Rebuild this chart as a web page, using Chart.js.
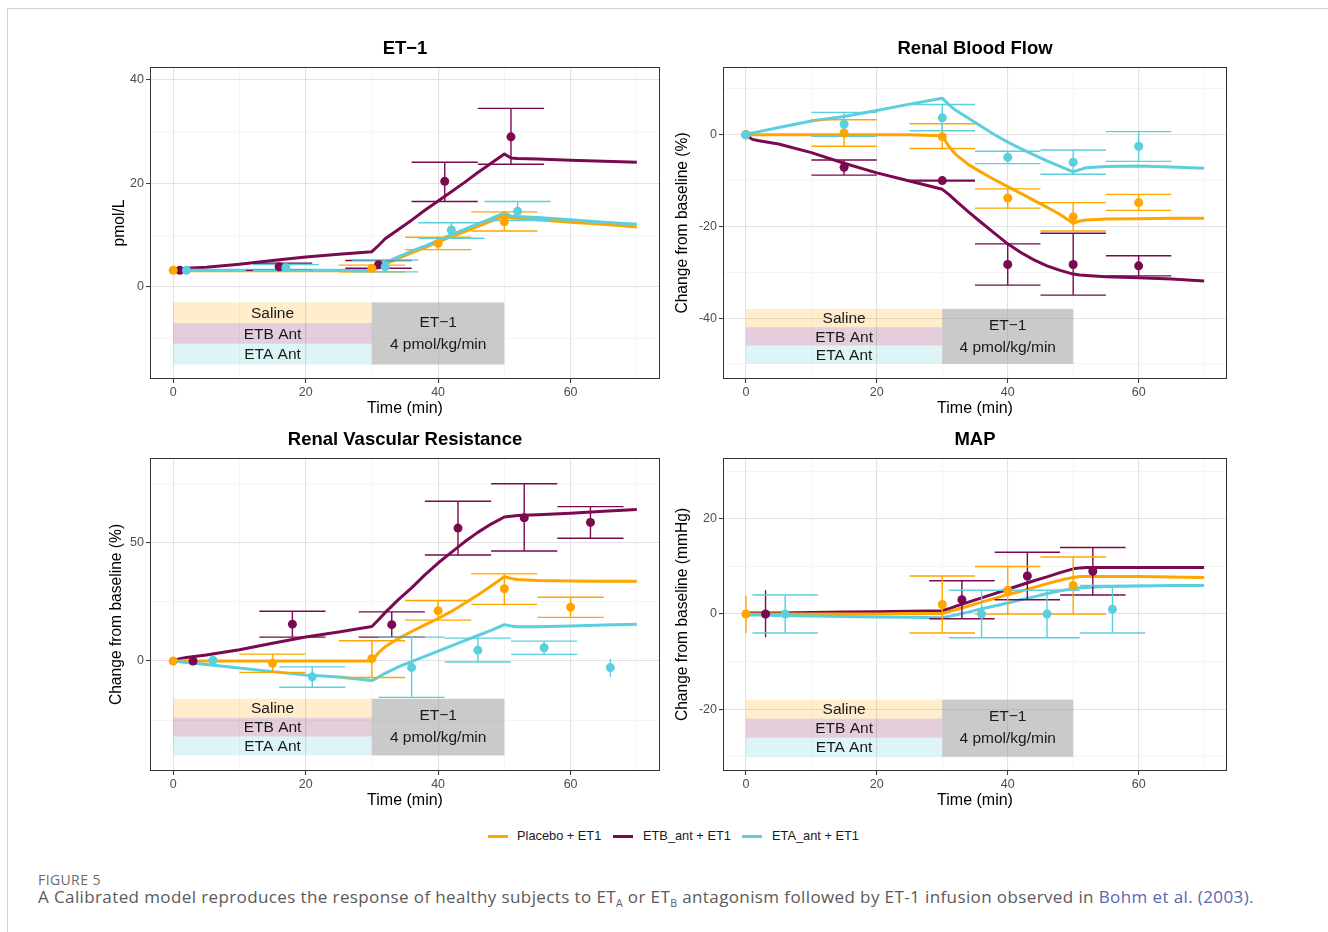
<!DOCTYPE html>
<html>
<head>
<meta charset="utf-8">
<script src="https://cdn.jsdelivr.net/npm/chart.js@4.4.1/dist/chart.umd.min.js"></script>
<style>
  body { margin: 0; width: 1328px; height: 932px; background: #fff; position: relative; overflow: hidden;
         font-family: 'Liberation Sans', Arial, sans-serif; }
  .frame { position: absolute; left: 7px; top: 8px; width: 1400px; height: 1000px;
           border-top: 1px solid #d4d4d4; border-left: 1px solid #d4d4d4; }
  canvas { position: absolute; }
  .sw { position: absolute; top: 835px; width: 20px; height: 3px; }
  .lt { position: absolute; top: 828px; font-size: 12.8px; color: #1a1a1a; }
  #fig { position: absolute; left: 38px; top: 870px; font-family: 'Open Sans', sans-serif; font-size: 14px;
         letter-spacing: 0.4px; color: #6b6b6b; }
  #cap { position: absolute; left: 38px; top: 885px; font-family: 'Open Sans', sans-serif; font-size: 17px;
         letter-spacing: 0.39px; color: #5a5a5a; white-space: nowrap; }
  #cap sub { font-size: 10.5px; }
  #cap .lnk { color: #5866b4; }
</style>
</head>
<body>
<div class="frame"></div>
<canvas id="c1" width="610" height="395" style="left:100px; top:28px"></canvas>
<canvas id="c2" width="610" height="395" style="left:670px; top:28px"></canvas>
<canvas id="c3" width="610" height="396" style="left:100px; top:419px"></canvas>
<canvas id="c4" width="610" height="396" style="left:670px; top:419px"></canvas>

<div class="sw" style="left:488px; background:#ffa500"></div><div class="lt" style="left:517px">Placebo + ET1</div>
<div class="sw" style="left:613px; background:#7a0a50"></div><div class="lt" style="left:643px">ETB_ant + ET1</div>
<div class="sw" style="left:742px; background:#5bcfde"></div><div class="lt" style="left:772px">ETA_ant + ET1</div>

<div id="fig">FIGURE 5</div>
<div id="cap">A Calibrated model reproduces the response of healthy subjects to ET<sub>A</sub> or ET<sub>B</sub> antagonism followed by ET-1 infusion observed in <span class="lnk">Bohm et al. (2003).</span></div>

<script>
const colors = { placebo: '#ffa500', etb: '#7a0a50', eta: '#5bcfde' }

// model curves (all panels share the same time grid)
const modelTime = [0, 1, 2, 5, 10, 15, 20, 25, 30, 31, 32, 34, 36, 38, 40, 42, 44, 46, 48, 50, 51, 52, 55, 60, 65, 70]

const et1PlaceboModel = [3.1, 3.1, 3.1, 3.1, 3.1, 3.1, 3.1, 3.1, 3.1, 3.7, 4.4, 5.5, 6.6, 7.6, 8.7, 9.7, 10.7, 11.7, 12.7, 13.7, 13.3, 13.2, 13.0, 12.5, 12.1, 11.6]
const et1EtbModel = [3.5, 3.5, 3.6, 3.8, 4.4, 5.1, 5.8, 6.3, 6.8, 8.0, 9.3, 11.1, 12.9, 14.8, 16.6, 18.4, 20.2, 22.1, 23.9, 25.7, 24.9, 24.8, 24.7, 24.5, 24.3, 24.1]
const et1EtaModel = [3.2, 3.2, 3.2, 3.2, 3.2, 3.2, 3.2, 3.2, 3.2, 4.0, 4.7, 5.8, 6.9, 7.9, 9.0, 10.1, 11.1, 12.2, 13.2, 14.3, 13.7, 13.6, 13.4, 13.0, 12.5, 12.1]

const rbfPlaceboModel = [0, 0, 0, 0, 0, 0, 0, 0, -0.2, -2.5, -4.2, -6.5, -8.2, -9.8, -11.3, -12.8, -14.3, -15.8, -17.4, -19.3, -18.8, -18.6, -18.4, -18.3, -18.2, -18.2]
const rbfEtbModel = [0, -1.0, -1.3, -2.0, -3.9, -6.2, -8.3, -10.1, -11.9, -13.0, -14.3, -16.8, -19.2, -21.5, -23.8, -25.7, -27.3, -28.6, -29.6, -30.4, -30.6, -30.7, -31.0, -31.2, -31.5, -31.9]
const rbfEtaModel = [0, 0.4, 0.7, 1.6, 3.0, 4.0, 5.3, 6.7, 8.0, 6.6, 5.4, 3.6, 1.8, 0.0, -1.6, -3.0, -4.4, -5.7, -6.9, -8.1, -7.6, -7.2, -6.9, -6.8, -7.0, -7.3]

const rvrPlaceboModel = [0, 0, 0, 0, 0, 0, 0, 0, 0, 3.5, 6.0, 9.5, 12.5, 15.3, 18.0, 21.0, 24.5, 28.0, 31.8, 35.7, 35.0, 34.5, 34.1, 33.9, 33.8, 33.8]
const rvrEtbModel = [0, 1.0, 1.5, 2.5, 4.8, 7.5, 10.2, 12.3, 14.6, 17.5, 20.5, 26.0, 31.0, 36.5, 41.5, 46.0, 50.5, 54.5, 58.0, 61.0, 61.3, 61.6, 62.0, 62.6, 63.4, 64.2]
const rvrEtaModel = [0, -0.3, -0.6, -1.5, -3.0, -4.5, -5.9, -6.8, -8.3, -6.8, -5.2, -2.5, -0.3, 2.0, 4.2, 6.4, 8.6, 10.8, 13.0, 15.4, 14.8, 14.5, 14.5, 14.8, 15.2, 15.6]

const mapPlaceboModel = [0, 0, 0, 0, 0, 0, 0, 0.1, 0.1, 0.5, 0.9, 1.7, 2.5, 3.3, 4.1, 4.8, 5.6, 6.4, 7.1, 7.7, 7.9, 7.9, 7.9, 7.9, 7.8, 7.7]
const mapEtbModel = [0.2, 0.2, 0.2, 0.2, 0.3, 0.4, 0.5, 0.6, 0.7, 1.1, 1.6, 2.5, 3.4, 4.3, 5.2, 6.1, 7.0, 7.8, 8.7, 9.5, 9.7, 9.8, 9.8, 9.8, 9.8, 9.8]
const mapEtaModel = [-0.2, -0.2, -0.2, -0.3, -0.4, -0.5, -0.6, -0.7, -0.8, -0.5, -0.2, 0.4, 1.1, 1.7, 2.3, 3.0, 3.6, 4.3, 4.9, 5.3, 5.5, 5.6, 5.8, 5.9, 6.0, 6.0]

// observed data: time (dodged), mean, lower, upper (null = no error bar)
const et1PlaceboTime = [0, 30, 40, 50]
const et1PlaceboMean = [3.2, 3.6, 8.4, 12.6]
const et1PlaceboLow = [null, 2.9, 7.2, 10.8]
const et1PlaceboHigh = [null, 4.2, 9.6, 14.5]
const et1EtbTime = [1, 16, 31, 41, 51]
const et1EtbMean = [3.2, 3.9, 4.3, 20.4, 29.0]
const et1EtbLow = [null, 3.2, 3.6, 16.5, 23.7]
const et1EtbHigh = [null, 4.6, 5.1, 24.1, 34.5]
const et1EtaTime = [2, 17, 32, 42, 52]
const et1EtaMean = [3.2, 3.7, 3.9, 11.0, 14.6]
const et1EtaLow = [null, 3.2, 2.9, 9.4, 12.8]
const et1EtaHigh = [null, 4.3, 5.2, 12.4, 16.5]

const rbfTime = [0, 15, 30, 40, 50, 60]
const rbfPlaceboMean = [0, 0.4, -0.4, -13.8, -17.9, -14.8]
const rbfPlaceboLow = [null, -2.5, -3.0, -16.0, -21.0, -16.5]
const rbfPlaceboHigh = [null, 3.3, 2.4, -11.8, -14.8, -13.0]
const rbfEtbMean = [0, -7.1, -10.0, -28.3, -28.3, -28.6]
const rbfEtbLow = [null, -8.8, -10.1, -32.8, -35.0, -30.8]
const rbfEtbHigh = [null, -5.5, -9.9, -23.8, -21.5, -26.4]
const rbfEtaMean = [0, 2.3, 3.7, -4.9, -6.0, -2.5]
const rbfEtaLow = [null, -0.3, 0.9, -6.3, -8.6, -5.8]
const rbfEtaHigh = [null, 4.9, 6.6, -3.6, -3.3, 0.7]

const rvrPlaceboTime = [0, 15, 30, 40, 50, 60]
const rvrPlaceboMean = [0, -1.0, 1.0, 21.3, 30.6, 22.8]
const rvrPlaceboLow = [null, -4.8, -7.0, 17.3, 24.0, 18.5]
const rvrPlaceboHigh = [null, 2.9, 8.6, 25.6, 36.9, 27.0]
const rvrEtbTime = [3, 18, 33, 43, 53, 63]
const rvrEtbMean = [0, 15.6, 15.4, 56.3, 60.7, 58.7]
const rvrEtbLow = [null, 10.1, 10.1, 44.9, 46.6, 52.0]
const rvrEtbHigh = [null, 21.1, 20.8, 67.7, 75.1, 65.4]
const rvrEtaTime = [6, 21, 36, 46, 56, 66]
const rvrEtaMean = [0.3, -6.7, -2.8, 4.6, 5.6, -2.8]
const rvrEtaLow = [null, -11.1, -15.4, -0.4, 2.8, -6.7]
const rvrEtaHigh = [null, -2.5, 10.1, 9.7, 8.4, 1.0]

const mapPlaceboTime = [0, 30, 40, 50]
const mapPlaceboMean = [0, 2.0, 5.0, 6.0]
const mapPlaceboLow = [-4.0, -4.0, 0, 0]
const mapPlaceboHigh = [3.9, 8.0, 10.0, 12.0]
const mapEtbTime = [3, 33, 43, 53]
const mapEtbMean = [0, 3.0, 8.0, 9.0]
const mapEtbLow = [-4.9, -1.0, 3.0, 4.0]
const mapEtbHigh = [5.0, 7.0, 13.0, 14.0]
const mapEtaTime = [6, 36, 46, 56]
const mapEtaMean = [0, 0, 0, 1.0]
const mapEtaLow = [-4.0, -5.0, -5.0, -4.0]
const mapEtaHigh = [4.0, 5.0, 5.0, 6.0]

// x axis and annotation boxes
const xTicks = [0, 10, 20, 30, 40, 50, 60, 70]
const capHalf = 5
const doseStart = [0, 30, 50]
const bandLabels = ['Saline', 'ETB Ant', 'ETA Ant']
const infusionLabels = ['ET\u22121', '4 pmol/kg/min']
const et1Box = [-3, -15]
const rbfBox = [-38, -50]
const rvrBox = [-16, -40]
const mapBox = [-18, -30]

const font = "'Liberation Sans', Arial, sans-serif"

function errorBarData(t, low, high) {
	const pts = []
	t.forEach((ti, i) => {
		if (low[i] === null) return
		if (ti - capHalf >= 0 && ti + capHalf <= 70) {
			pts.push({ x: ti - capHalf, y: high[i] }, { x: ti + capHalf, y: high[i] }, { x: ti, y: null })
			pts.push({ x: ti - capHalf, y: low[i] }, { x: ti + capHalf, y: low[i] }, { x: ti, y: null })
		}
		pts.push({ x: ti, y: low[i] }, { x: ti, y: high[i] }, { x: ti, y: null })
	})
	return pts
}

function seriesSets(color, model, t, mean, low, high) {
	return [
		{ data: modelTime.map((x, i) => ({ x, y: model[i] })), borderColor: color, borderWidth: 3,
		  pointRadius: 0, tension: 0, borderJoinStyle: 'round', order: 3 },
		{ data: errorBarData(t, low, high), borderColor: color, borderWidth: 1.4, pointRadius: 0,
		  spanGaps: false, order: 2 },
		{ data: t.map((x, i) => ({ x, y: mean[i] })), showLine: false, pointRadius: 4.5,
		  pointBackgroundColor: color, pointBorderWidth: 0, order: 1 },
	]
}

const bandPlugin = {
	id: 'bands',
	beforeDatasetsDraw(chart, args, opts) {
		const { ctx, scales: { x, y } } = chart
		const [top, bottom] = opts.box
		const step = (top - bottom) / 3
		const fills = ['rgba(255,165,0,0.2)', 'rgba(122,10,80,0.2)', 'rgba(91,207,222,0.2)']
		const x0 = x.getPixelForValue(doseStart[0])
		const x1 = x.getPixelForValue(doseStart[1])
		const x2 = x.getPixelForValue(doseStart[2])
		ctx.save()
		ctx.font = '15.5px ' + font
		ctx.textAlign = 'center'
		ctx.textBaseline = 'middle'
		for (let i = 0; i < 3; i++) {
			const yt = y.getPixelForValue(top - step * i)
			const yb = y.getPixelForValue(top - step * (i + 1))
			ctx.fillStyle = fills[i]
			ctx.fillRect(x0, yt, x1 - x0, yb - yt)
			ctx.fillStyle = '#1a1a1a'
			ctx.fillText(bandLabels[i], x.getPixelForValue(15), (yt + yb) / 2 + 1)
		}
		const yt = y.getPixelForValue(top)
		const yb = y.getPixelForValue(bottom)
		ctx.fillStyle = 'rgba(150,150,150,0.5)'
		ctx.fillRect(x1, yt, x2 - x1, yb - yt)
		ctx.fillStyle = '#1a1a1a'
		const xm = x.getPixelForValue(40)
		ctx.fillText(infusionLabels[0], xm, (yt + yb) / 2 - 11)
		ctx.fillText(infusionLabels[1], xm, (yt + yb) / 2 + 11)
		ctx.restore()
	},
	afterDraw(chart) {
		const { ctx, chartArea: a } = chart
		ctx.save()
		ctx.strokeStyle = '#333'
		ctx.lineWidth = 1
		ctx.strokeRect(Math.round(a.left) + 0.5, Math.round(a.top) + 0.5, Math.round(a.right - a.left) - 1, Math.round(a.bottom - a.top) - 1)
		ctx.restore()
	},
}

function gridFor(major) {
	return {
		color: (c) => (c.tick && c.tick.value % major === 0 ? '#e2e2e2' : '#f1f1f1'),
		lineWidth: (c) => (c.tick && c.tick.value % major === 0 ? 1.1 : 0.7),
		tickColor: (c) => (c.tick && c.tick.value % major === 0 ? '#333' : 'rgba(0,0,0,0)'),
		tickLength: 4,
		tickWidth: 1,
	}
}

function makePanel(id, cfg) {
	new Chart(document.getElementById(id), {
		type: 'line',
		data: { datasets: cfg.datasets },
		options: {
			responsive: false,
			animation: false,
			devicePixelRatio: 1,
			layout: { padding: 0 },
			plugins: {
				legend: { display: false },
				tooltip: { enabled: false },
				title: { display: true, text: cfg.title, color: '#000', font: { family: font, size: 18.5, weight: 'bold' },
				         padding: { top: 9.6, bottom: 7.2 } },
				bands: { box: cfg.box },
			},
			scales: {
				x: {
					type: 'linear', min: -3.5, max: 73.5,
					afterBuildTicks: (s) => { s.ticks = xTicks.map((v) => ({ value: v })) },
					afterFit: (s) => { s.height = 44 },
					grid: gridFor(20),
					border: { display: false },
					ticks: { color: '#4d4d4d', font: { family: font, size: 12.5 }, padding: 2, maxRotation: 0,
					         callback: (v) => (v % 20 === 0 ? String(v) : '') },
					title: { display: true, text: 'Time (min)', color: '#000', font: { family: font, size: 16 },
					         padding: { top: 0, bottom: 4.6 } },
				},
				y: {
					type: 'linear', min: cfg.yMin, max: cfg.yMax,
					afterBuildTicks: (s) => { s.ticks = cfg.yTicks.map((v) => ({ value: v })) },
					afterFit: (s) => { s.width = cfg.yWidth },
					grid: gridFor(cfg.yMajor),
					border: { display: false },
					ticks: { color: '#4d4d4d', font: { family: font, size: 12.5 }, padding: 2,
					         callback: (v) => (v % cfg.yMajor === 0 ? String(v) : '') },
					title: { display: true, text: cfg.yTitle, color: '#000', font: { family: font, size: 15.6 },
					         padding: { top: cfg.yTitlePad, bottom: 0 } },
				},
				// empty right-hand spacer so the chart title centres over the panel
				yPad: {
					type: 'linear', position: 'right', min: 0, max: 1,
					afterFit: (s) => { s.width = cfg.yWidth },
					grid: { display: false }, border: { display: false }, ticks: { display: false },
				},
			},
		},
		plugins: [bandPlugin],
	})
}

makePanel('c1', {
	title: 'ET\u22121', yTitle: 'pmol/L', yTitlePad: 10.6, yWidth: 50,
	yMin: -17.8, yMax: 42.5, yTicks: [-10, 0, 10, 20, 30, 40], yMajor: 20, box: et1Box,
	datasets: [
		...seriesSets(colors.eta, et1EtaModel, et1EtaTime, et1EtaMean, et1EtaLow, et1EtaHigh),
		...seriesSets(colors.placebo, et1PlaceboModel, et1PlaceboTime, et1PlaceboMean, et1PlaceboLow, et1PlaceboHigh),
		...seriesSets(colors.etb, et1EtbModel, et1EtbTime, et1EtbMean, et1EtbLow, et1EtbHigh),
	],
})

makePanel('c2', {
	title: 'Renal Blood Flow', yTitle: 'Change from baseline (%)', yTitlePad: 3.6, yWidth: 53,
	yMin: -53.3, yMax: 14.8, yTicks: [-50, -40, -30, -20, -10, 0, 10], yMajor: 20, box: rbfBox,
	datasets: [
		...seriesSets(colors.eta, rbfEtaModel, rbfTime, rbfEtaMean, rbfEtaLow, rbfEtaHigh),
		...seriesSets(colors.placebo, rbfPlaceboModel, rbfTime, rbfPlaceboMean, rbfPlaceboLow, rbfPlaceboHigh),
		...seriesSets(colors.etb, rbfEtbModel, rbfTime, rbfEtbMean, rbfEtbLow, rbfEtbHigh),
	],
})

makePanel('c3', {
	title: 'Renal Vascular Resistance', yTitle: 'Change from baseline (%)', yTitlePad: 7.6, yWidth: 50,
	yMin: -46.6, yMax: 86, yTicks: [-25, 0, 25, 50, 75], yMajor: 50, box: rvrBox,
	datasets: [
		...seriesSets(colors.eta, rvrEtaModel, rvrEtaTime, rvrEtaMean, rvrEtaLow, rvrEtaHigh),
		...seriesSets(colors.placebo, rvrPlaceboModel, rvrPlaceboTime, rvrPlaceboMean, rvrPlaceboLow, rvrPlaceboHigh),
		...seriesSets(colors.etb, rvrEtbModel, rvrEtbTime, rvrEtbMean, rvrEtbLow, rvrEtbHigh),
	],
})

makePanel('c4', {
	title: 'MAP', yTitle: 'Change from baseline (mmHg)', yTitlePad: 3.6, yWidth: 53,
	yMin: -33, yMax: 32.8, yTicks: [-30, -20, -10, 0, 10, 20, 30], yMajor: 20, box: mapBox,
	datasets: [
		...seriesSets(colors.eta, mapEtaModel, mapEtaTime, mapEtaMean, mapEtaLow, mapEtaHigh),
		...seriesSets(colors.placebo, mapPlaceboModel, mapPlaceboTime, mapPlaceboMean, mapPlaceboLow, mapPlaceboHigh),
		...seriesSets(colors.etb, mapEtbModel, mapEtbTime, mapEtbMean, mapEtbLow, mapEtbHigh),
	],
})
</script>
</body>
</html>
